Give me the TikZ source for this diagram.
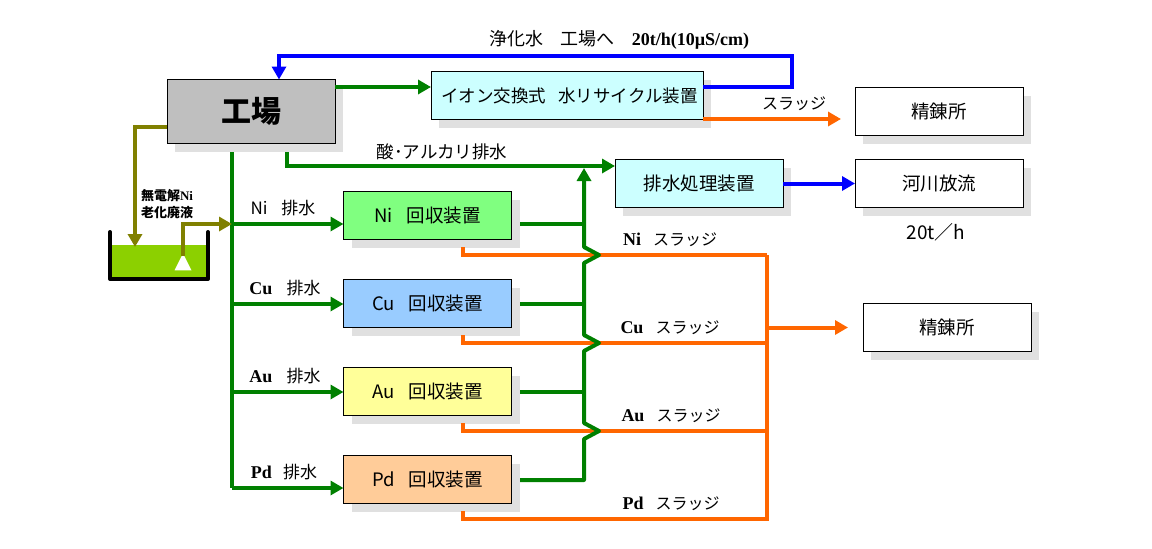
\documentclass[tikz,border=0pt]{standalone}
\usepackage{fontspec}
\setmainfont{Noto Sans CJK JP}
\newfontfamily\latinfont{Liberation Serif}
\newcommand{\lat}[1]{{\latinfont\bfseries\fontsize{18}{20}\selectfont #1}}
\usetikzlibrary{shapes.geometric, arrows.meta, positioning, shadows}
\tikzset{every node/.style={font=\fontsize{16}{17}\selectfont}}
\definecolor{sludge}{HTML}{FF6600}
\definecolor{drain}{HTML}{008000}
\definecolor{waterblue}{HTML}{0000FF}
\definecolor{wasteolive}{HTML}{808000}
\definecolor{bath}{HTML}{8CD000}
\definecolor{paleblue}{HTML}{CCFFFF}
\definecolor{cubox}{HTML}{99CCFF}
\definecolor{aubox}{HTML}{FFFF99}
\definecolor{pdbox}{HTML}{FFCC99}
\definecolor{nibox}{HTML}{80FF80}

\begin{document}
\begin{tikzpicture}[x=1pt, y=-1pt, node distance=40pt]
  \tikzstyle{box} = [rectangle, minimum width=168pt, minimum height=48pt, inner sep=0pt, outer sep=0pt, align=center, draw=black, line width=1pt, font=\fontsize{18.5}{20}\selectfont, drop shadow={shadow xshift=8pt, shadow yshift=-8pt, fill=black!12, opacity=1}]
  \tikzstyle{label} = [inner sep=0pt, align=center]
  \tikzstyle{pipe} = [line width=4pt, line join=miter]
  \tikzstyle{arrow} = [pipe, ->, >={Triangle[length=13pt, width=14pt]}]
  \useasboundingbox (0,0) rectangle (1152,549);
  \node (factory) [box, minimum height=64pt, fill=black!25, font=\fontsize{30}{32}\selectfont\bfseries] at (251,111.5) {工場};
  \node (recycle) [box, minimum width=272pt, fill=paleblue, font=\fontsize{17.5}{19}\selectfont] at (567,95.5) {\hspace{5pt}イオン交換式\hspace{12pt}水リサイクル装置};
  \node (treat) [box, fill=paleblue] at (699,183.5) {排水処理装置};
  \node (refineA) [box, fill=white] at (939,111.5) {精錬所};
  \node (river) [box, fill=white] at (939,183.5) {河川放流};
  \node (refineB) [box, fill=white] at (947,327.5) {精錬所};
  \node (ni) [box, fill=nibox] at (427.5,215.5) {Ni\hspace{14pt}回収装置};
  \node (cu) [box, fill=cubox, below=of ni] {Cu\hspace{14pt}回収装置};
  \node (au) [box, fill=aubox, below=of cu] {Au\hspace{14pt}回収装置};
  \node (pd) [box, fill=pdbox, below=of au] {Pd\hspace{14pt}回収装置};
  \node (tank) [rectangle, inner sep=0pt, minimum width=95pt, minimum height=34pt, fill=bath] at (159,262) {};
  \node (pump) [isosceles triangle, shape border rotate=90, isosceles triangle stretches, minimum width=17pt, minimum height=17pt, inner sep=0pt, fill=white] at (183,265) {};

  \coordinate (tankleft) at (110,232);
  \coordinate (tankright) at (208,232);
  \coordinate (feed) at (232,224);
  \coordinate (cuin) at (232,304);
  \coordinate (auin) at (232,392);
  \coordinate (pdin) at (232,488);
  \coordinate (acid) at (287,166);
  \coordinate (merge) at (584,168);
  \coordinate (slimeA) at (767,255);
  \coordinate (slimeB) at (767,343);
  \coordinate (slimeC) at (767,431);
  \coordinate (slimeD) at (767,519);

  \draw [line width=4pt, line cap=round, line join=round] (tankleft) -- (110,279) -- (208,279) -- (tankright);

  % orange sludge lines
  \draw [arrow, sludge] (703,119) -- (841,119);
  \draw [pipe, sludge] (463,247) -- (463,255) -- (slimeA);
  \draw [pipe, sludge] (463,335) -- (463,343) -- (slimeB);
  \draw [pipe, sludge] (463,423) -- (463,431) -- (slimeC);
  \draw [pipe, sludge] (463,511) -- (463,519) -- (slimeD) -- (slimeA);
  \draw [arrow, sludge] (767,327.5) -- (848,327.5);

  % blue water lines
  \draw [arrow, waterblue] (703,87) -- (792,87) -- (792,56) -- (279,56) -- (factory.north -| 279,0);
  \draw [arrow, waterblue] (treat.east) -- (river.west);

  % green drain lines
  \draw [arrow, drain] (factory.east |- 0,87) -- (recycle.west |- 0,87);
  \draw [arrow, drain] (287,152) -- (acid) -- (treat.west |- acid);
  \draw [pipe, drain] (232,152) -- (pdin);
  \draw [arrow, drain] (feed) -- (ni.west |- feed);
  \draw [arrow, drain] (cuin) -- (cu.west |- cuin);
  \draw [arrow, drain] (auin) -- (au.west |- auin);
  \draw [arrow, drain] (pdin) -- (pd.west |- pdin);
  \draw [pipe, drain] (520,224) -- (584,224);
  \draw [pipe, drain] (520,304) -- (584,304);
  \draw [pipe, drain] (520,392) -- (584,392);
  \draw [arrow, drain, line join=round] (520,480) -- (584,480) -- (584,439) -- (599,431) -- (584,423) -- (584,351) -- (599,343) -- (584,335) -- (584,263) -- (599,255) -- (584,247) -- (merge);

  % olive waste liquid
  \draw [arrow, wasteolive] (factory.west |- 0,127) -- (135,127) -- (135,247);
  \draw [arrow, wasteolive] (183,256) -- (183,224) -- (feed);

  \node (waste) [label, font=\fontsize{13}{17}\selectfont\bfseries] at (167,204.5) {無電解{\latinfont\fontsize{13}{17}\selectfont Ni}\\老化廃液};
  \node (cleanlabel) [label, font=\fontsize{18}{20}\selectfont] at (619.5,40) {浄化水\hspace{17pt}工場へ\hspace{17pt}\lat{20t/h(10µS/cm)}};
  \node (sludgelabel) [label] at (794,104) {スラッジ};
  \node (acidlabel) [label, font=\fontsize{17.5}{19}\selectfont] at (442,152) {酸･アルカリ排水};
  \node (flowlabel) [label, font=\fontsize{19}{20}\selectfont] at (936,232) {20t／h};
  \node (nilabel) [label, font=\fontsize{17}{19}\selectfont] at (283,208) {Ni\hspace{14pt}排水};
  \node (culabel) [label, font=\fontsize{17}{19}\selectfont] at (285,288) {\lat{Cu}\hspace{14pt}排水};
  \node (aulabel) [label, font=\fontsize{17}{19}\selectfont] at (285,376) {\lat{Au}\hspace{14pt}排水};
  \node (pdlabel) [label, font=\fontsize{17}{19}\selectfont] at (284,472) {\lat{Pd}\hspace{11pt}排水};
  \node (nisludge) [label] at (670,240) {\lat{Ni}\hspace{12pt}スラッジ};
  \node (cusludge) [label] at (670,328) {\lat{Cu}\hspace{12pt}スラッジ};
  \node (ausludge) [label] at (671,416) {\lat{Au}\hspace{12pt}スラッジ};
  \node (pdsludge) [label] at (671,504) {\lat{Pd}\hspace{12pt}スラッジ};
\end{tikzpicture}
\end{document}
